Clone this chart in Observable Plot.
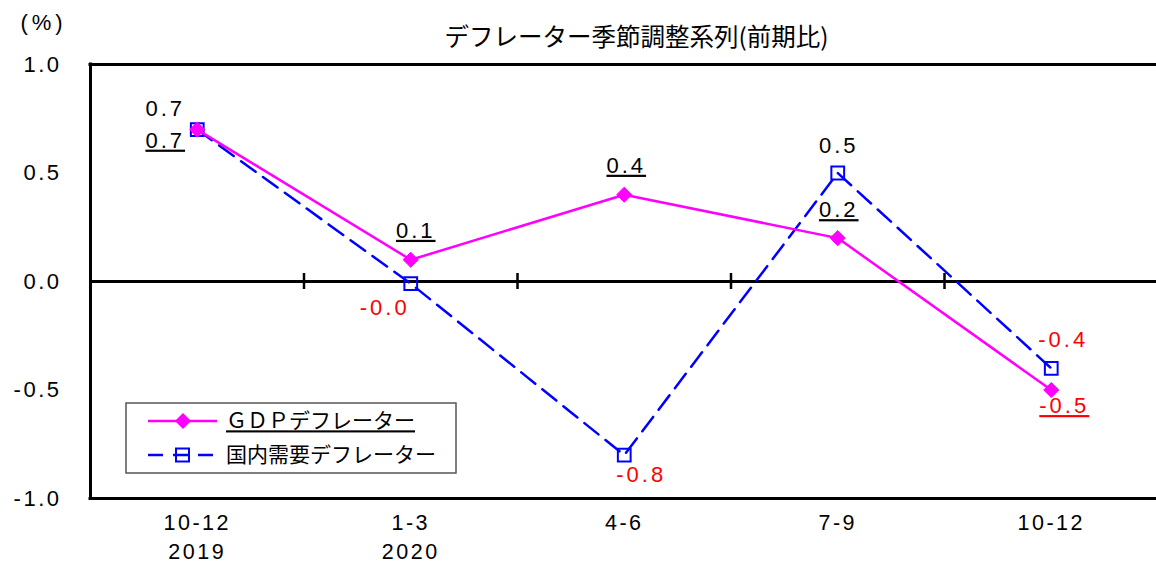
<!DOCTYPE html>
<html><head><meta charset="utf-8">
<script src="https://cdn.jsdelivr.net/npm/d3@7"></script>
<script src="https://cdn.jsdelivr.net/npm/@observablehq/plot@0.6"></script>
<style>
body{margin:0;background:#fff}
#chart{position:relative;width:1156px;height:565px;overflow:hidden}
</style>
</head><body><div id="chart"></div>
<script>
// ---- data ----
const quarters = ["10-12", "1-3", "4-6", "7-9", "10-12"];
const years = ["2019", "2020", "", "", ""];
const gdpDeflator = [0.7, 0.1, 0.4, 0.2, -0.5];
const domesticDeflator = [0.7, -0.01, -0.8, 0.5, -0.4];
const yTicks = [-1.0, -0.5, 0.0, 0.5, 1.0];
const seriesNames = ["ＧＤＰデフレーター", "国内需要デフレーター"];
const title = "デフレーター季節調整系列(前期比)";
const unitLabel = "(%)";

// ---- label placement (styling, pixel offsets from each point) ----
const gdpLabelOffset = [[-32, 11], [5, -29], [2, -29], [1, -28], [13, 16]];
const domLabelOffset = [[-32, -21], [-26, 24], [17, 20], [1, -27], [12, -28]];

const GDP_COLOR = "#FF00FF", DOM_COLOR = "#0000FF", NEG_COLOR = "#FF0000";
const JP = "'Noto Sans CJK JP', sans-serif";
const idx = quarters.map((_, i) => i);
const boundaries = idx.slice(1).map(i => i - 0.5);
const fmt = v => v.toFixed(1);

const labelMarks = (values, offsets, name) => idx.map(i => Plot.text([i], {
  x: d => d, y: d => values[d], text: d => fmt(values[d]),
  dx: offsets[i][0], dy: offsets[i][1],
  fill: values[i] < 0 ? NEG_COLOR : "#000", fontSize: 22, ariaDescription: name
}));

const plot = Plot.plot({
  width: 1156, height: 565,
  marginTop: 64, marginBottom: 67, marginLeft: 90, marginRight: 0,
  style: {fontFamily: "'Liberation Sans', Arial, sans-serif", fontSize: "22px", background: "white", color: "#000"},
  x: {domain: [-0.5, 4.5], range: [90, 1157.5], axis: null},
  y: {domain: [-1, 1], axis: null},
  marks: [
    Plot.axisY(yTicks, {tickSize: 0, tickPadding: 29, tickFormat: fmt, fontSize: 22, label: null}),
    Plot.axisX(idx, {tickSize: 0, tickPadding: 11, fontSize: 21.5, lineHeight: 1.34, label: null,
      tickFormat: i => quarters[i] + (years[i] ? "\n" + years[i] : "")}),
    Plot.ruleY([0], {stroke: "#000", strokeWidth: 3}),
    Plot.ruleX(boundaries, {x: d => d, y1: 0, y2: 0, insetTop: -8, insetBottom: -8, stroke: "#000", strokeWidth: 2.5}),
    Plot.ruleY([-1, 1], {stroke: "#000", strokeWidth: 3, strokeLinecap: "square"}),
    Plot.ruleX([-0.5], {y1: -1, y2: 1, stroke: "#000", strokeWidth: 3, strokeLinecap: "square"}),
    Plot.line(idx, {x: i => i, y: i => domesticDeflator[i], stroke: DOM_COLOR, strokeWidth: 2.5, strokeDasharray: "18,9"}),
    Plot.dot(idx, {x: i => i, y: i => domesticDeflator[i], symbol: "square", r: 7.2, stroke: DOM_COLOR, strokeWidth: 2, fill: "none"}),
    Plot.line(idx, {x: i => i, y: i => gdpDeflator[i], stroke: GDP_COLOR, strokeWidth: 2.5}),
    Plot.dot(idx, {x: i => i, y: i => gdpDeflator[i], symbol: "diamond2", r: 6.8, fill: GDP_COLOR, stroke: GDP_COLOR, strokeWidth: 1}),
    ...labelMarks(domesticDeflator, domLabelOffset, "val-dom"),
    ...labelMarks(gdpDeflator, gdpLabelOffset, "val-gdp"),
    Plot.text([title], {text: d => d, frameAnchor: "top", dx: 13, dy: -36, fontSize: 24.5, fontFamily: JP}),
    Plot.text([unitLabel], {text: d => d, frameAnchor: "top-left", textAnchor: "middle", dx: -47, dy: -50, fontSize: 22, ariaDescription: "unit"})
  ]
});

// ---- text styling (letter spacing, underlines) ----
const svg = d3.select(plot);
svg.selectAll('g[aria-label="y-axis tick label"] text, g[aria-label="x-axis tick label"] text')
  .style("letter-spacing", "2.5px");
svg.selectAll('g[aria-description="val-dom"] text, g[aria-description="val-gdp"] text')
  .style("letter-spacing", "3px");
svg.selectAll('g[aria-description="val-gdp"] text').style("text-decoration", "underline");
svg.selectAll('g[aria-description="unit"] text').style("letter-spacing", "4px");

// ---- legend (inside the plot area) ----
const lg = svg.append("g").attr("aria-label", "legend");
lg.append("rect").attr("x", 126).attr("y", 403).attr("width", 330).attr("height", 70)
  .attr("fill", "white").attr("stroke", "#555").attr("stroke-width", 1.5);
const rows = [
  {name: seriesNames[0], y: 421, color: GDP_COLOR, dash: null, underline: true},
  {name: seriesNames[1], y: 455, color: DOM_COLOR, dash: "15,10", underline: false}
];
rows.forEach(r => {
  lg.append("line").attr("x1", 148).attr("x2", 217).attr("y1", r.y).attr("y2", r.y)
    .attr("stroke", r.color).attr("stroke-width", 2.5).attr("stroke-dasharray", r.dash);
  if (r.dash) {
    lg.append("rect").attr("x", 176).attr("y", r.y - 6.5).attr("width", 13).attr("height", 13)
      .attr("fill", "none").attr("stroke", r.color).attr("stroke-width", 2);
  } else {
    lg.append("path").attr("d", `M183,${r.y - 8}L191,${r.y}L183,${r.y + 8}L175,${r.y}Z`).attr("fill", r.color);
  }
  lg.append("text").attr("x", 226).attr("y", r.y).attr("dy", "0.35em").attr("text-anchor", "start")
    .attr("font-family", JP).attr("font-size", 21).attr("fill", "#000")
    .style("text-decoration", r.underline ? "underline" : null).text(r.name);
});

document.getElementById("chart").appendChild(plot);
</script>
</body></html>
